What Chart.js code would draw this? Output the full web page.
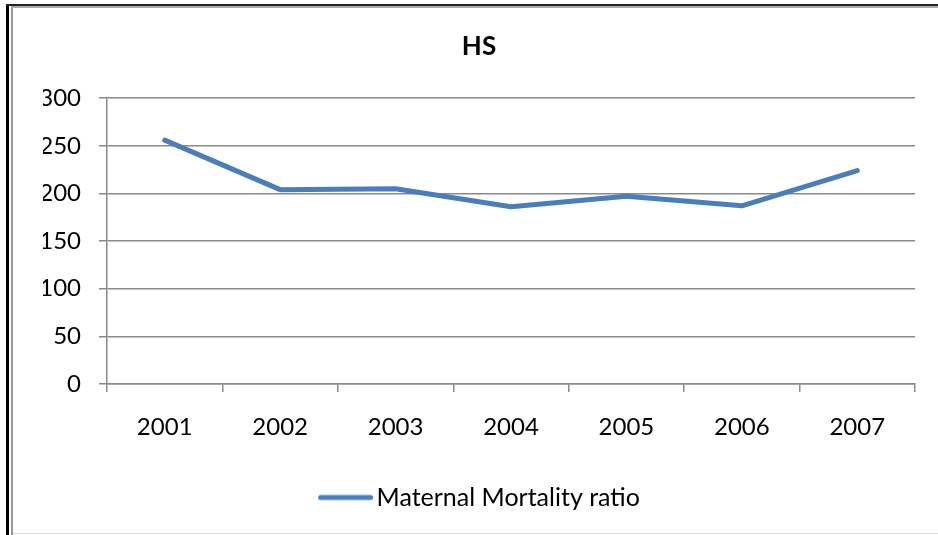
<!DOCTYPE html>
<html>
<head>
<meta charset="utf-8">
<script src="https://cdn.jsdelivr.net/npm/chart.js@4/dist/chart.umd.min.js"></script>
<style>
  html, body { margin: 0; padding: 0; background: #fff; }
  #wrap { position: relative; width: 938px; height: 535px; overflow: hidden; }
  canvas { position: absolute; left: 0; top: 0; }
  .b { position: absolute; pointer-events: none; }
</style>
</head>
<body>
<div id="wrap">
  <canvas id="c" width="938" height="535"></canvas>
  <div class="b" style="left:6px;top:4px;width:3px;height:531px;background:#000;"></div>
  <div class="b" style="left:6px;top:4px;width:932px;height:2px;background:#222;"></div>
  <div class="b" style="left:11px;top:6px;width:2px;height:529px;background:#999;"></div>
  <div class="b" style="left:11px;top:6px;width:927px;height:2px;background:#aaa;"></div>
  <div class="b" style="left:13px;top:533px;width:925px;height:1px;background:#ddd;"></div>
</div>
<script>
const categories = ['2001', '2002', '2003', '2004', '2005', '2006', '2007'];
const seriesName = 'Maternal Mortality ratio';
const mmrValues = [256, 204, 205, 186, 197, 187, 224];
const yTicks = [0, 50, 100, 150, 200, 250, 300];

const FONT = 'Lato, "Noto Sans", sans-serif';
const gridColor = '#8a8a8a';
const lineColor = '#4a7ebb';

// legend symbol: a short thick line, drawn left-aligned so the text sits close to it
const sym = document.createElement('canvas');
sym.width = 64; sym.height = 10;
(function () {
  const g = sym.getContext('2d');
  g.strokeStyle = lineColor;
  g.lineWidth = 5;
  g.lineCap = 'round';
  g.beginPath();
  g.moveTo(11.5, 5);
  g.lineTo(61.5, 5);
  g.stroke();
})();

new Chart(document.getElementById('c'), {
  type: 'line',
  data: {
    labels: categories,
    datasets: [{
      label: seriesName,
      data: mmrValues,
      borderColor: lineColor,
      backgroundColor: lineColor,
      borderWidth: 5,
      borderCapStyle: 'round',
      borderJoinStyle: 'round',
      pointRadius: 0,
      pointHoverRadius: 0,
      tension: 0,
      fill: false
    }]
  },
  options: {
    responsive: false,
    animation: false,
    events: [],
    layout: { padding: { left: 43, right: 23, top: 0, bottom: 15 } },
    plugins: {
      title: {
        display: true,
        text: 'HS',
        color: '#000',
        font: { family: FONT, size: 26, weight: 'bold' },
        padding: { top: 31, bottom: 36 }
      },
      legend: {
        display: true,
        position: 'bottom',
        labels: {
          usePointStyle: true,
          pointStyle: sym,
          pointStyleWidth: 46,
          color: '#000',
          font: { family: FONT, size: 25 },
          padding: 10
        }
      },
      tooltip: { enabled: false }
    },
    scales: {
      x: {
        type: 'category',
        offset: true,
        grid: {
          display: true,
          offset: true,
          drawOnChartArea: false,
          drawTicks: true,
          tickLength: 8,
          color: gridColor,
          lineWidth: 1.5
        },
        border: { display: true, color: gridColor, width: 1.5 },
        ticks: {
          color: '#000',
          font: { family: FONT, size: 24 },
          padding: 21,
          maxRotation: 0
        },
        afterFit: s => { s.height = 91; }
      },
      y: {
        min: 0,
        max: 300,
        afterBuildTicks: s => { s.ticks = yTicks.map(v => ({ value: v })); },
        grid: {
          display: true,
          drawOnChartArea: true,
          drawTicks: true,
          tickLength: 8,
          color: gridColor,
          lineWidth: 1.5
        },
        border: { display: true, color: gridColor, width: 1.5 },
        ticks: {
          color: '#000',
          font: { family: FONT, size: 24 },
          padding: 18
        },
        afterFit: s => { s.width = 64; }
      }
    }
  }
});
</script>
</body>
</html>
